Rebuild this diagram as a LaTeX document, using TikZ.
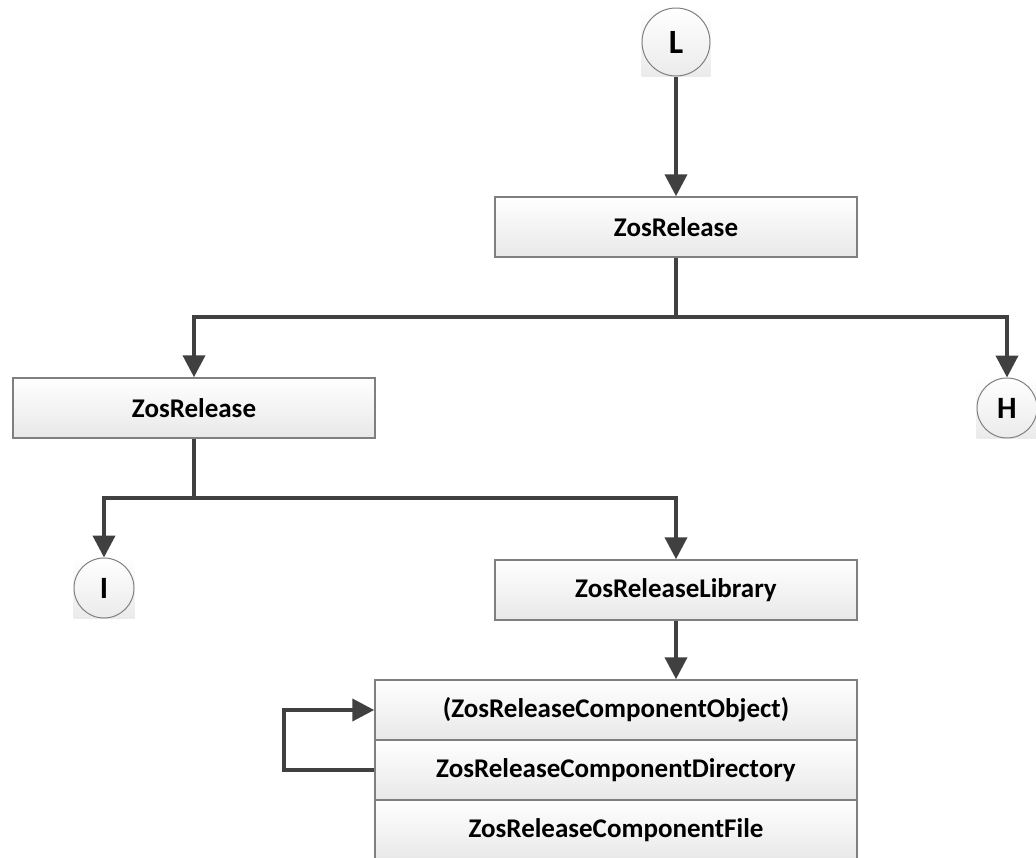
\documentclass[tikz,border=0pt]{standalone}
\usepackage{fontspec}
\setmainfont{Carlito}
\usetikzlibrary{arrows.meta,backgrounds}
\definecolor{connc}{HTML}{404040}
\definecolor{edgec}{HTML}{7F7F7F}
\begin{document}
\begin{tikzpicture}[x=1pt,y=-1pt,
  lbl/.style={font=\fontsize{27}{32}\selectfont\bfseries},
  box/.style={lbl, draw=edgec, line width=1.5pt, top color=white, bottom color=black!9,
    minimum height=60pt, inner sep=0pt},
  circ/.style={font=\fontsize{31}{36}\selectfont\bfseries, circle, draw=edgec, line width=1pt,
    inner sep=0pt, minimum size=60pt},
  sq/.style={top color=white, bottom color=black!8},
  connector/.style={draw=connc, line width=4pt, -{Triangle[length=22pt,width=22pt]}},
  plainline/.style={draw=connc, line width=4pt}]
\useasboundingbox (0,0) rectangle (1036,857);
\clip (0,0) rectangle (1036,857);

% boxes
\node[box, minimum width=362pt] (top) at (676,227) {ZosRelease};
\node[box, minimum width=362pt] (left) at (194,408) {ZosRelease};
\node[box, minimum width=362pt] (lib) at (676,590) {ZosReleaseLibrary};
\node[box, minimum width=482pt] (obj) at (616,710) {(ZosReleaseComponentObject)};
\node[box, minimum width=482pt] (dir) at (616,770) {ZosReleaseComponentDirectory};
\node[box, minimum width=482pt] (file) at (616,830) {ZosReleaseComponentFile};

% off-page references
\node[circ, minimum size=68pt, font=\fontsize{34}{40}\selectfont\bfseries] (L) at (676,42) {L};
\node[circ] (H) at (1007,408) {H};
\node[circ] (I) at (104,588) {I};

\begin{scope}[on background layer]
  \foreach \n in {L,H,I}
    \shade[sq] (\n.west |- \n.south) rectangle (\n.east |- \n.north);
\end{scope}

% junction points
\coordinate (j1) at (676,317);
\coordinate (j2) at (194,498);
\coordinate (lp) at (284,770);

\draw[connector] (L) -- (top);
\draw[plainline] (top.south) -- (j1);
\draw[connector] (j1) -| (left.north);
\draw[connector] (j1) -| (H.north);
\draw[plainline] (left.south) -- (j2);
\draw[connector] (j2) -| (I.north);
\draw[connector] (j2) -| (lib.north);
\draw[connector] (lib.south) -- (lib.south |- obj.north);
\draw[connector] (dir.west) -- (lp) |- (obj.west);
\end{tikzpicture}
\end{document}
